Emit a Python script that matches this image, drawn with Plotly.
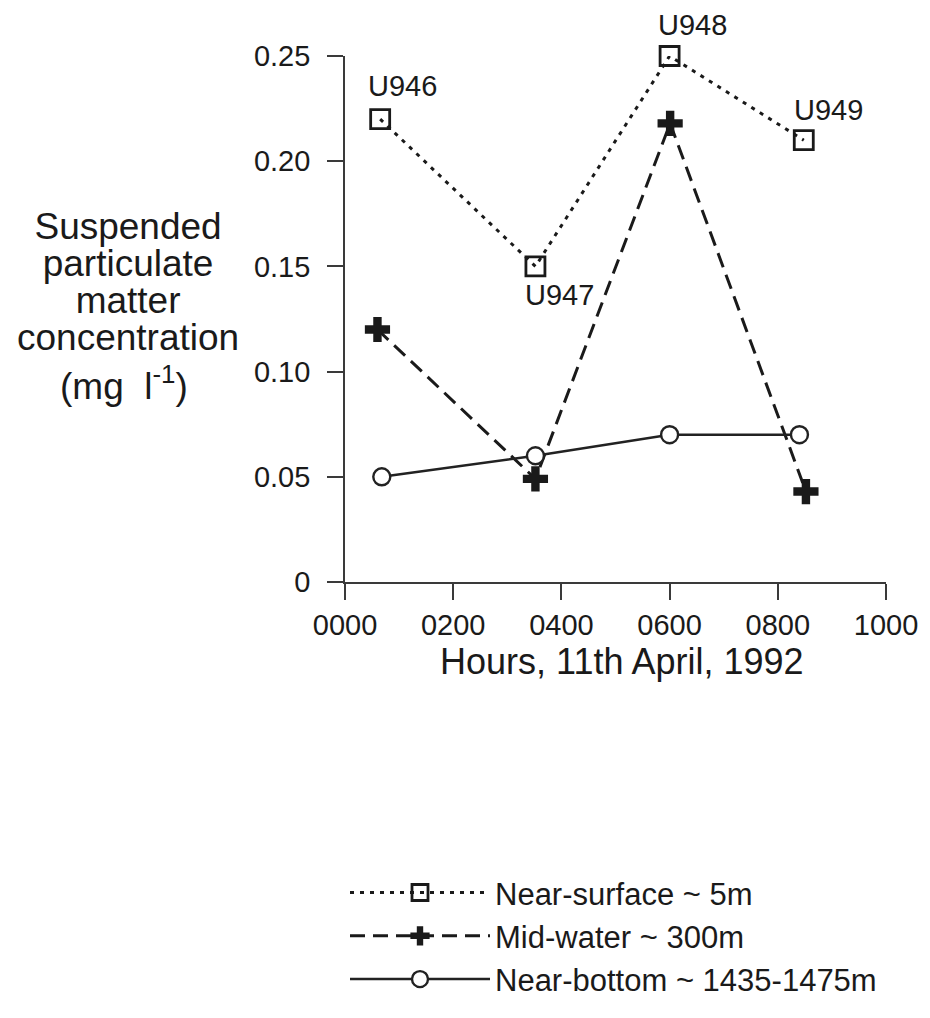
import plotly.graph_objects as go

# ---- data ----
hours_surface = [65, 352, 600, 848]
conc_surface = [0.22, 0.15, 0.25, 0.21]
station_labels = ["U946", "U947", "U948", "U949"]

hours_mid = [60, 352, 601, 852]
conc_mid = [0.12, 0.049, 0.218, 0.043]

hours_bottom = [68, 352, 600, 840]
conc_bottom = [0.05, 0.06, 0.07, 0.07]

series_names = ["Near-surface ~ 5m", "Mid-water ~ 300m", "Near-bottom ~ 1435-1475m"]

x_tickvals = [0, 200, 400, 600, 800, 1000]
x_ticktext = ["0000", "0200", "0400", "0600", "0800", "1000"]
y_tickvals = [0, 0.05, 0.10, 0.15, 0.20, 0.25]
y_ticktext = ["0", "0.05", "0.10", "0.15", "0.20", "0.25"]

x_title = "Hours, 11th April, 1992"
y_title_lines = ["Suspended", "particulate", "matter", "concentration"]
y_title_units = "(mg  l<sup>-1</sup>)"

# ---- styles / placement ----
W, H = 930, 1018
L, R, T, B = 345, 42, 56, 432
plot_h = H - T - B
sans = "Liberation Sans, Arial, Helvetica, sans-serif"
ink = "#1a1a1a"
axis_col = "#3a3a3a"

label_xshift = [-14, -12, -14, -12]
label_yshift = [33, -29, 31, 30]


def py(pix):
    return (H - B - pix) / plot_h


fig = go.Figure()
fig.add_trace(go.Scatter(
    x=hours_surface, y=conc_surface, name=series_names[0], mode="lines+markers",
    line=dict(color=ink, width=3, dash="4px,6px"),
    marker=dict(symbol="square-open", size=19, color=ink, line=dict(width=2.8, color=ink)),
    cliponaxis=False))
fig.add_trace(go.Scatter(
    x=hours_mid, y=conc_mid, name=series_names[1], mode="lines+markers",
    line=dict(color=ink, width=3, dash="15px,8px"),
    marker=dict(symbol="cross", size=21, color=ink, line=dict(width=0)),
    cliponaxis=False))
fig.add_trace(go.Scatter(
    x=hours_bottom, y=conc_bottom, name=series_names[2], mode="lines+markers",
    line=dict(color="#222222", width=2.5),
    marker=dict(symbol="circle", size=17, color="white", line=dict(width=2.4, color="#222222")),
    cliponaxis=False))

for i, lab in enumerate(station_labels):
    fig.add_annotation(x=hours_surface[i], y=conc_surface[i], text=lab, showarrow=False,
                       xanchor="left", yanchor="middle",
                       xshift=label_xshift[i], yshift=label_yshift[i],
                       font=dict(family=sans, size=29, color=ink))

# y-axis title: one text block with tight leading (base size sets the line spacing)
y_title_html = "<br>".join('<span style="font-size:37px">%s</span>' % s for s in y_title_lines)
fig.add_annotation(xref="paper", yref="paper", x=0, y=py(284),
                   xshift=128 - L, text=y_title_html, showarrow=False, align="center",
                   xanchor="center", yanchor="middle",
                   font=dict(family=sans, size=28.5, color=ink))
fig.add_annotation(xref="paper", yref="paper", x=0, y=py(386),
                   xshift=124 - L, text=y_title_units, showarrow=False, align="center",
                   xanchor="center", yanchor="middle",
                   font=dict(family=sans, size=37, color=ink))

fig.add_annotation(xref="paper", yref="paper", x=0, y=py(666),
                   xshift=622 - L, text=x_title, showarrow=False,
                   xanchor="center", yanchor="middle",
                   font=dict(family=sans, size=36, color=ink))

axis_common = dict(showline=True, linecolor=axis_col, linewidth=1.6,
                   ticks="outside", ticklen=16, tickwidth=1.6, tickcolor=axis_col,
                   showgrid=False, zeroline=False,
                   tickfont=dict(family=sans, size=29, color=ink))

fig.update_xaxes(range=[0, 1000], tickmode="array", tickvals=x_tickvals, ticktext=x_ticktext,
                 ticklabelstandoff=0, **axis_common)
fig.update_yaxes(range=[0, 0.25], tickmode="array", tickvals=y_tickvals, ticktext=y_ticktext,
                 ticklabelstandoff=11, **axis_common)

fig.update_layout(
    width=W, height=H,
    margin=dict(l=L, r=R, t=T, b=B, pad=0),
    paper_bgcolor="white", plot_bgcolor="white",
    showlegend=True,
    legend=dict(x=0, y=py(872), xanchor="left", yanchor="top",
                font=dict(family=sans, size=31, color=ink),
                itemwidth=140, bgcolor="rgba(0,0,0,0)", tracegroupgap=0),
)

fig.write_html("out.html")
